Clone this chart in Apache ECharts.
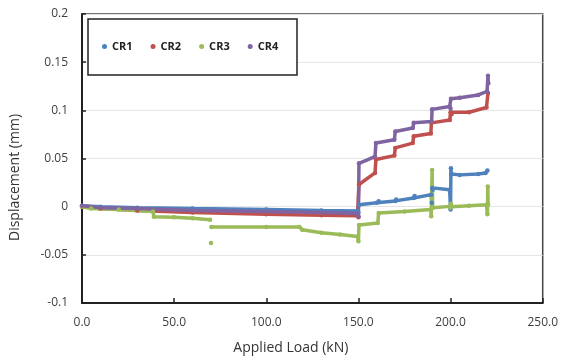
<!DOCTYPE html>
<html>
<head>
<meta charset="utf-8">
<script src="https://cdn.jsdelivr.net/npm/echarts@6/dist/echarts.min.js"></script>
<style>
  html, body { margin: 0; padding: 0; background: #fff; }
  #chart { width: 561px; height: 362px; }
</style>
</head>
<body>
<div id="chart"></div>
<script>
// series names
const seriesNames = ["CR1", "CR2", "CR3", "CR4"];
const seriesColors = ["#4F81BD", "#C0504D", "#9BBB59", "#8064A2"];

// [applied load (kN), displacement (mm)]; null breaks the line
const cr1 = [
    [0, 0.001], [10, 0.000], [30, -0.001], [60, -0.002], [100, -0.003], [130, -0.004],
    [149.5, -0.0045], [150, -0.006], [150.3, 0.002], [160, 0.004], [161, 0.0055],
    [170, 0.006], [170.5, 0.0075], [180, 0.009], [180.5, 0.011], [189.5, 0.0125],
    [189.8, 0.004], [190, 0.0195], [190.3, 0.0175], [199.5, 0.0175], [200, -0.003],
    [200.2, 0.040], [200.4, 0.034], [205, 0.033], [215, 0.034], [219, 0.035], [220, 0.0375]
];
const cr2 = [
    [0, 0.000], [10, -0.002], [30, -0.004], [60, -0.006], [100, -0.008], [130, -0.009],
    [149.5, -0.0095], [150, -0.011], [150.3, 0.023], [159, 0.035], [159.5, 0.049],
    [169.5, 0.053], [170, 0.061], [179.5, 0.066], [180, 0.073], [189.3, 0.076],
    [189.6, 0.087], [199.6, 0.090], [200, 0.098], [200.5, 0.096], [210, 0.098],
    [219.5, 0.103], [220.3, 0.118]
];
const cr3 = [
    [0, 0.000], [5, -0.002], [20, -0.003], [38.5, -0.005], [39, -0.0105], [50, -0.011],
    [60, -0.012], [69.5, -0.0135], [70, null], [70, -0.0377], [70.1, null],
    [70.2, -0.021], [100, -0.021], [118, -0.021], [119.5, -0.024], [130, -0.027],
    [140, -0.029], [149.5, -0.031], [150, -0.036], [150.3, -0.019], [160.5, -0.017],
    [161, -0.0065], [175, -0.005], [189.3, -0.003], [189.5, -0.010], [190, 0.038],
    [190.3, -0.001], [199.6, 0.0003], [200, -0.001], [200.2, 0.003], [200.4, 0.000],
    [210, 0.001], [219.5, 0.002], [220, -0.008], [220.2, 0.021], [220.4, 0.002]
];
const cr4 = [
    [0, 0.001], [10, -0.001], [30, -0.002], [60, -0.004], [100, -0.005], [130, -0.006],
    [149.5, -0.007], [150, -0.010], [150.3, 0.045], [159, 0.052], [159.5, 0.066],
    [169.5, 0.0695], [170, 0.078], [179.5, 0.0816], [180, 0.087], [189.7, 0.0885],
    [190, 0.101], [199.5, 0.104], [200, 0.102], [200.2, 0.112], [205, 0.113],
    [215, 0.116], [219.8, 0.1196], [220.3, 0.136], [220.5, 0.128]
];
const allData = [cr1, cr2, cr3, cr4];

const font = "'Open Sans', 'Noto Sans', sans-serif";

let chart = echarts.init(document.getElementById("chart"));

let option = {
    animation: false,
    backgroundColor: "#fff",
    grid: {
        left: 77, right: 18, top: 14, bottom: 59,
        show: true, borderColor: "#444", borderWidth: 1.5
    },
    graphic: [{
        type: "rect",
        z: 3,
        shape: { x: 88, y: 19, width: 209, height: 56 },
        style: { fill: "#fff", stroke: "#222", lineWidth: 1.5 }
    }],
    legend: {
        z: 10,
        left: 102, top: 41,
        padding: 0,
        icon: "circle",
        itemWidth: 5, itemHeight: 5,
        itemGap: 18,
        textStyle: { fontFamily: font, fontSize: 11, fontWeight: "bold", color: "#222" },
        data: seriesNames
    },
    xAxis: {
        type: "value",
        min: 0, max: 250, interval: 50,
        name: "Applied Load (kN)",
        nameLocation: "middle",
        nameGap: 38,
        nameTextStyle: { fontFamily: font, fontSize: 14, color: "#333", padding: [0, 43, 0, 0] },
        axisLine: { show: true, onZero: false, lineStyle: { color: "#222", width: 2 } },
        axisTick: { show: true, inside: true, length: 5, lineStyle: { color: "#222", width: 1.5 } },
        axisLabel: { fontFamily: font, fontSize: 12, color: "#404040", margin: 14,
            formatter: v => v.toFixed(1) },
        splitLine: { show: false }
    },
    yAxis: {
        type: "value",
        min: -0.1, max: 0.2, interval: 0.05,
        name: "Displacement (mm)",
        nameLocation: "middle",
        nameGap: 60,
        nameRotate: 90,
        nameTextStyle: { fontFamily: font, fontSize: 14, color: "#333", padding: [0, 38, 0, 0] },
        axisLine: { show: true, onZero: false, lineStyle: { color: "#222", width: 2 } },
        axisTick: { show: true, inside: true, length: 4, lineStyle: { color: "#222", width: 1.5 } },
        axisLabel: { fontFamily: font, fontSize: 12, color: "#404040", margin: 14,
            formatter: v => String(+v.toFixed(2)) },
        splitLine: { show: true, lineStyle: { color: "#e6e6e6", width: 1 } }
    },
    series: seriesNames.map((name, i) => ({
        name: name,
        type: "line",
        data: allData[i],
        connectNulls: false,
        showSymbol: true,
        symbol: "circle",
        symbolSize: 4.5,
        color: seriesColors[i],
        lineStyle: { width: 3.5, color: seriesColors[i] },
        itemStyle: { color: seriesColors[i] }
    }))
};

chart.setOption(option);
</script>
</body>
</html>
